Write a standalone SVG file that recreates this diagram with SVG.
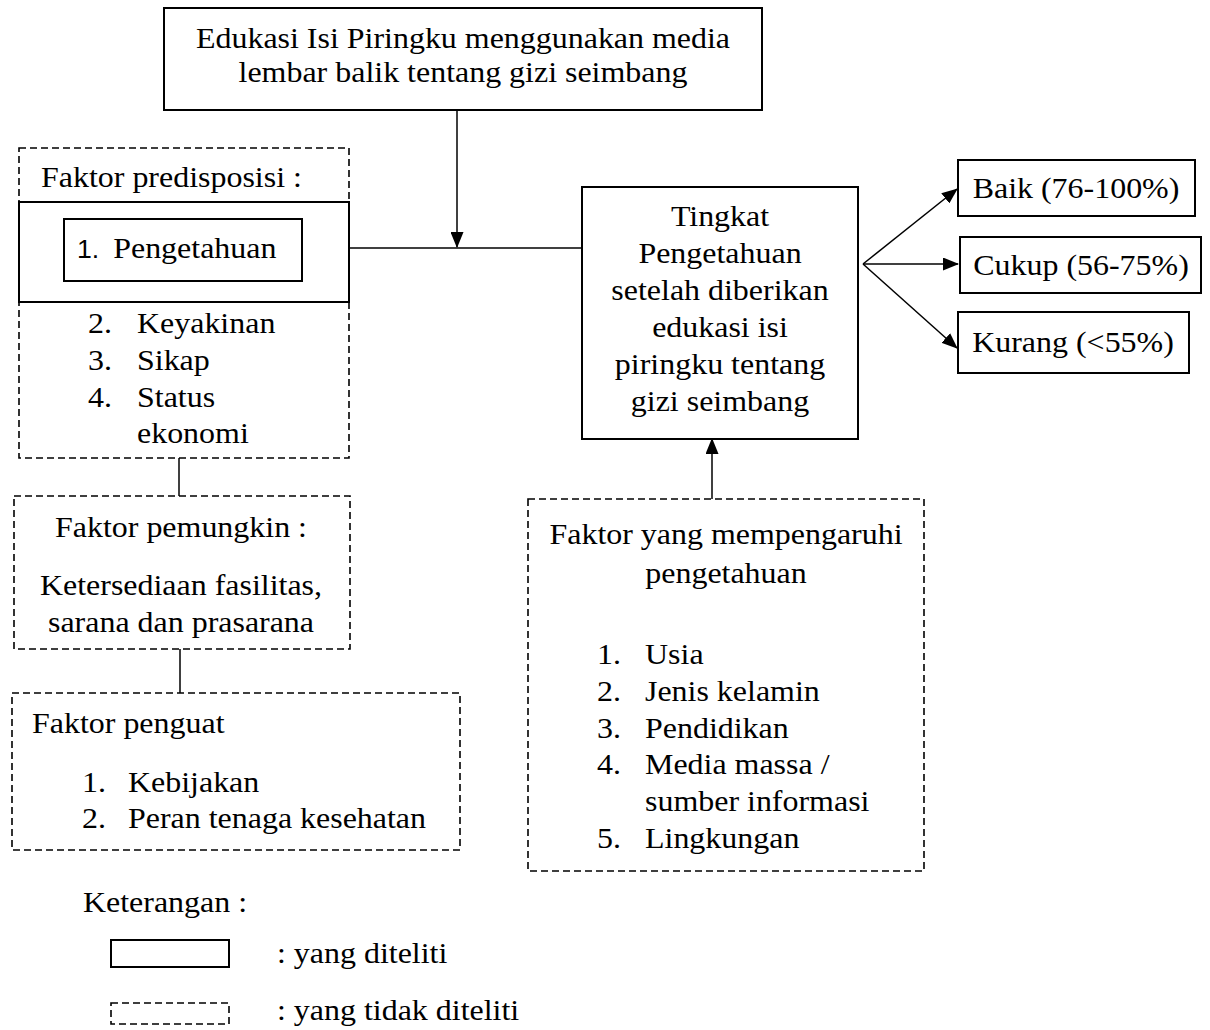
<svg xmlns="http://www.w3.org/2000/svg" width="1210" height="1030" viewBox="0 0 1210 1030">
<style>
text{font-family:"Liberation Serif","Times New Roman",serif;font-size:30px;fill:#000}
.mid{text-anchor:middle}
.solid{fill:none;stroke:#000;stroke-width:2}
.dash{fill:none;stroke:#000;stroke-width:1.6;stroke-dasharray:7 4}
.con{fill:none;stroke:#000;stroke-width:1.5}
.sans{font-family:"Liberation Sans",Arial,sans-serif;font-size:25px}
</style>
<defs>
<marker id="arr" markerUnits="userSpaceOnUse" markerWidth="16" markerHeight="13" refX="15" refY="6.5" orient="auto">
<path d="M0,0 L16,6.5 L0,13 z" fill="#000"/>
</marker>
</defs>
<rect width="1210" height="1030" fill="#fff"/>
<g id="connectors">
<line class="con" x1="457" y1="110" x2="457" y2="247" marker-end="url(#arr)"/>
<line class="con" x1="349" y1="248" x2="582" y2="248"/>
<line class="con" x1="179" y1="458" x2="179" y2="496"/>
<line class="con" x1="180" y1="649" x2="180" y2="693"/>
<line class="con" x1="712" y1="499" x2="712" y2="439" marker-end="url(#arr)"/>
<line class="con" x1="863" y1="264" x2="957" y2="189" marker-end="url(#arr)"/>
<line class="con" x1="863" y1="264" x2="958" y2="264" marker-end="url(#arr)"/>
<line class="con" x1="863" y1="264" x2="957" y2="348" marker-end="url(#arr)"/>
</g>
<g id="node-edukasi">
<rect class="solid" x="164" y="8" width="598" height="102"/>
<text class="mid" transform="translate(463 0) scale(1.065 1)" y="48">Edukasi Isi Piringku menggunakan media</text>
<text class="mid" transform="translate(463 0) scale(1.065 1)" y="82">lembar balik tentang gizi seimbang</text>
</g>
<g id="node-predisposisi">
<rect class="dash" x="19" y="148" width="330" height="310"/>
<rect class="solid" x="19" y="202" width="330" height="100"/>
<text transform="translate(41 0) scale(1.065 1)" y="187">Faktor predisposisi :</text>
<text transform="translate(88 0) scale(1.065 1)" y="333">2.</text><text transform="translate(137 0) scale(1.065 1)" y="333">Keyakinan</text>
<text transform="translate(88 0) scale(1.065 1)" y="370">3.</text><text transform="translate(137 0) scale(1.065 1)" y="370">Sikap</text>
<text transform="translate(88 0) scale(1.065 1)" y="407">4.</text><text transform="translate(137 0) scale(1.065 1)" y="407">Status</text>
<text transform="translate(137 0) scale(1.065 1)" y="443">ekonomi</text>
</g>
<g id="node-pengetahuan">
<rect class="solid" x="64" y="219" width="238" height="62"/>
<text transform="translate(77 0) scale(1.065 1)" y="258"><tspan class="sans">1.</tspan><tspan x="34">Pengetahuan</tspan></text>
</g>
<g id="node-pemungkin">
<rect class="dash" x="14" y="496" width="336" height="153"/>
<text class="mid" transform="translate(181 0) scale(1.065 1)" y="537">Faktor pemungkin :</text>
<text class="mid" transform="translate(181 0) scale(1.065 1)" y="595">Ketersediaan fasilitas,</text>
<text class="mid" transform="translate(181 0) scale(1.065 1)" y="632">sarana dan prasarana</text>
</g>
<g id="node-penguat">
<rect class="dash" x="12" y="693" width="448" height="157"/>
<text transform="translate(32 0) scale(1.065 1)" y="733">Faktor penguat</text>
<text transform="translate(82 0) scale(1.065 1)" y="792">1.</text><text transform="translate(128 0) scale(1.065 1)" y="792">Kebijakan</text>
<text transform="translate(82 0) scale(1.065 1)" y="828">2.</text><text transform="translate(128 0) scale(1.065 1)" y="828">Peran tenaga kesehatan</text>
</g>
<g id="node-tingkat">
<rect class="solid" x="582" y="187" width="276" height="252"/>
<text class="mid" transform="translate(720 0) scale(1.065 1)" y="226">Tingkat</text>
<text class="mid" transform="translate(720 0) scale(1.065 1)" y="263">Pengetahuan</text>
<text class="mid" transform="translate(720 0) scale(1.065 1)" y="300">setelah diberikan</text>
<text class="mid" transform="translate(720 0) scale(1.065 1)" y="337">edukasi isi</text>
<text class="mid" transform="translate(720 0) scale(1.065 1)" y="374">piringku tentang</text>
<text class="mid" transform="translate(720 0) scale(1.065 1)" y="411">gizi seimbang</text>
</g>
<g id="node-baik">
<rect class="solid" x="958" y="160" width="237" height="56"/>
<text class="mid" transform="translate(1076 0) scale(1.065 1)" y="198">Baik (76-100%)</text>
</g>
<g id="node-cukup">
<rect class="solid" x="960" y="237" width="241" height="56"/>
<text class="mid" transform="translate(1081 0) scale(1.065 1)" y="275">Cukup (56-75%)</text>
</g>
<g id="node-kurang">
<rect class="solid" x="958" y="312" width="231" height="61"/>
<text class="mid" transform="translate(1073 0) scale(1.065 1)" y="352">Kurang (&lt;55%)</text>
</g>
<g id="node-faktor-pengetahuan">
<rect class="dash" x="528" y="499" width="396" height="372"/>
<text class="mid" transform="translate(726 0) scale(1.065 1)" y="544">Faktor yang mempengaruhi</text>
<text class="mid" transform="translate(726 0) scale(1.065 1)" y="583">pengetahuan</text>
<text transform="translate(597 0) scale(1.065 1)" y="664">1.</text><text transform="translate(645 0) scale(1.065 1)" y="664">Usia</text>
<text transform="translate(597 0) scale(1.065 1)" y="701">2.</text><text transform="translate(645 0) scale(1.065 1)" y="701">Jenis kelamin</text>
<text transform="translate(597 0) scale(1.065 1)" y="738">3.</text><text transform="translate(645 0) scale(1.065 1)" y="738">Pendidikan</text>
<text transform="translate(597 0) scale(1.065 1)" y="774">4.</text><text transform="translate(645 0) scale(1.065 1)" y="774">Media massa /</text>
<text transform="translate(645 0) scale(1.065 1)" y="811">sumber informasi</text>
<text transform="translate(597 0) scale(1.065 1)" y="848">5.</text><text transform="translate(645 0) scale(1.065 1)" y="848">Lingkungan</text>
</g>
<g id="legend">
<text transform="translate(83 0) scale(1.065 1)" y="912">Keterangan :</text>
<rect class="solid" x="111" y="940" width="118" height="27"/>
<text transform="translate(277 0) scale(1.065 1)" y="963">: yang diteliti</text>
<rect class="dash" x="111" y="1003" width="118" height="21"/>
<text transform="translate(277 0) scale(1.065 1)" y="1020">: yang tidak diteliti</text>
</g>
</svg>
